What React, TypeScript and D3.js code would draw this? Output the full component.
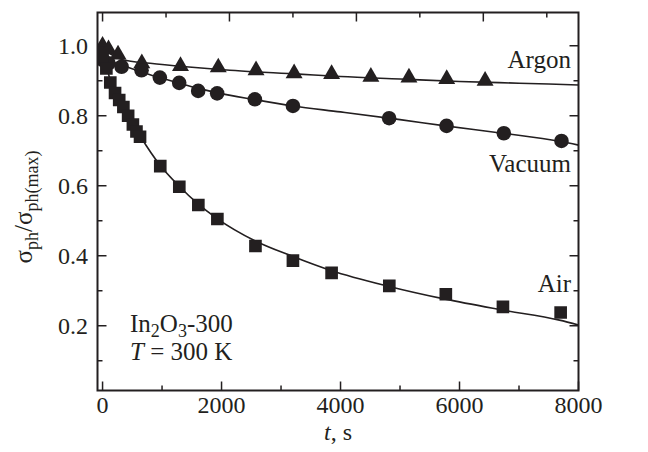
import React from "react";
import * as d3 from "d3";

// ---- data (t in axis units, s; value = sigma_ph / sigma_ph(max)) ----
const argonT = [0, 100, 260, 660, 1310, 1945, 2580, 3220, 3850, 4510, 5150, 5785, 6430];
const argonV = [1.0, 0.99, 0.975, 0.95, 0.942, 0.938, 0.93, 0.921, 0.919, 0.911, 0.909, 0.905, 0.9];

const vacuumT = [0, 100, 320, 655, 963, 1288, 1607, 1926, 2560, 3200, 4817, 5782, 6745, 7714];
const vacuumV = [0.96, 0.95, 0.94, 0.93, 0.909, 0.894, 0.871, 0.864, 0.847, 0.828, 0.793, 0.771, 0.75, 0.728];

const airT = [0, 64, 130, 210, 280, 350, 430, 510, 570, 630, 970, 1290, 1610, 1930, 2570, 3200, 3850, 4820, 5770, 6730, 7700];
const airV = [0.97, 0.935, 0.895, 0.865, 0.845, 0.825, 0.8, 0.775, 0.755, 0.74, 0.656, 0.597, 0.545, 0.505, 0.428, 0.386, 0.351, 0.314, 0.29, 0.254, 0.238];

// fitted curves
const argonFitT = [0, 150, 340, 800, 1400, 2140, 3300, 4000, 5000, 6000, 7000, 8000];
const argonFitV = [0.995, 0.975, 0.96, 0.95, 0.94, 0.93, 0.919, 0.912, 0.905, 0.898, 0.893, 0.888];

const vacuumFitT = [0, 160, 320, 640, 960, 1280, 1600, 1920, 2560, 3200, 4000, 5000, 5760, 6720, 7680, 8000];
const vacuumFitV = [0.975, 0.955, 0.945, 0.926, 0.909, 0.893, 0.879, 0.866, 0.846, 0.828, 0.811, 0.789, 0.771, 0.75, 0.727, 0.716];

const airFitT = [0, 60, 130, 250, 400, 640, 960, 1280, 1600, 1920, 2560, 3200, 3840, 4800, 5760, 6720, 7680, 8000];
const airFitV = [1.0, 0.95, 0.9, 0.855, 0.81, 0.74, 0.66, 0.6, 0.549, 0.507, 0.443, 0.398, 0.358, 0.313, 0.276, 0.245, 0.216, 0.202];

// ticks
const xMajorTicks = [0, 2000, 4000, 6000, 8000];
const xMinorTicks = [1000, 3000, 5000, 7000];
const xTickLabels = ["0", "2000", "4000", "6000", "8000"];
const topTicks = [0, 1067, 2133, 3200, 4267, 5333, 6400, 7467];
const yMajorTicks = [0.2, 0.4, 0.6, 0.8, 1.0];
const yMinorTicks = [0.1, 0.3, 0.5, 0.7, 0.9];
const yTickLabels = ["0.2", "0.4", "0.6", "0.8", "1.0"];

const W = 648, H = 452;
const L = 97.5, R = 578.5, T = 12.5, B = 390.5;
const INK = "#231f20";
const FONT = "'Liberation Serif', 'Times New Roman', serif";

export default function App() {
  const x = d3.scaleLinear().domain([-85, 8000]).range([L, R]);
  const y = d3.scaleLinear().domain([0.015, 1.095]).range([B, T]);

  const line = d3
    .line<[number, number]>()
    .x((d) => x(d[0]))
    .y((d) => y(d[1]))
    .curve(d3.curveMonotoneX);

  const zip = (a: number[], b: number[]) => a.map((t, i) => [t, b[i]] as [number, number]);

  const tri = d3.symbol().type(d3.symbolTriangle).size(125)() as string;
  const sq = d3.symbol().type(d3.symbolSquare).size(160)() as string;

  const majorLen = 9, minorLen = 5;

  return (
    <svg
      width={W}
      height={H}
      style={{ position: "absolute", left: 0, top: 0, background: "#fff" }}
      fontFamily={FONT}
    >
      <rect x={0} y={0} width={W} height={H} fill="#fff" />
      <defs>
        <clipPath id="plot">
          <rect x={L} y={T} width={R - L} height={B - T} />
        </clipPath>
      </defs>

      {/* curves */}
      <g clipPath="url(#plot)" fill="none" stroke={INK} strokeWidth={1.6}>
        <path d={line(zip(argonFitT, argonFitV)) || ""} />
        <path d={line(zip(vacuumFitT, vacuumFitV)) || ""} />
        <path d={line(zip(airFitT, airFitV)) || ""} />
      </g>

      {/* markers */}
      <g fill={INK} clipPath="url(#plot)">
        {zip(argonT, argonV).map((d, i) => (
          <path key={"a" + i} d={tri} transform={`translate(${x(d[0])},${y(d[1])})`} />
        ))}
        {zip(vacuumT, vacuumV).map((d, i) => (
          <circle key={"v" + i} cx={x(d[0])} cy={y(d[1])} r={7.3} />
        ))}
        {zip(airT, airV).map((d, i) => (
          <path key={"s" + i} d={sq} transform={`translate(${x(d[0])},${y(d[1])})`} />
        ))}
      </g>

      {/* frame */}
      <rect x={L} y={T} width={R - L} height={B - T} fill="none" stroke={INK} strokeWidth={2} />

      {/* ticks */}
      <g stroke={INK} strokeWidth={1.5}>
        {xMajorTicks.map((t) => (
          <line key={"xb" + t} x1={x(t)} x2={x(t)} y1={B} y2={B - majorLen} />
        ))}
        {xMinorTicks.map((t) => (
          <line key={"xm" + t} x1={x(t)} x2={x(t)} y1={B} y2={B - minorLen} />
        ))}
        {topTicks.map((t, i) => (
          <line key={"xt" + t} x1={x(t)} x2={x(t)} y1={T} y2={T + (i % 2 === 0 ? majorLen : minorLen)} />
        ))}
        {yMajorTicks.map((v) => (
          <g key={"y" + v}>
            <line x1={L} x2={L + majorLen} y1={y(v)} y2={y(v)} />
            <line x1={R} x2={R - majorLen} y1={y(v)} y2={y(v)} />
          </g>
        ))}
        {yMinorTicks.map((v) => (
          <g key={"ym" + v}>
            <line x1={L} x2={L + minorLen} y1={y(v)} y2={y(v)} />
            <line x1={R} x2={R - minorLen} y1={y(v)} y2={y(v)} />
          </g>
        ))}
      </g>

      {/* tick labels */}
      <g fill={INK} fontSize={24}>
        {xMajorTicks.map((t, i) => (
          <text key={"xl" + t} x={x(t)} y={413} textAnchor="middle">
            {xTickLabels[i]}
          </text>
        ))}
        {yMajorTicks.map((v, i) => (
          <text key={"yl" + v} x={88} y={y(v) + 8} textAnchor="end">
            {yTickLabels[i]}
          </text>
        ))}
      </g>

      {/* axis titles */}
      <text x={338} y={440} textAnchor="middle" fontSize={24} fill={INK}>
        <tspan fontStyle="italic">t</tspan>, s
      </text>
      <text transform="translate(32,207) rotate(-90)" textAnchor="middle" fontSize={25} fill={INK}>
        σ<tspan fontSize={18} dy={6}>ph</tspan>
        <tspan dy={-6}>/σ</tspan>
        <tspan fontSize={18} dy={6}>ph(max)</tspan>
      </text>

      {/* series labels */}
      <g fill={INK} fontSize={25} textAnchor="end">
        <text x={571} y={68}>Argon</text>
        <text x={571} y={172}>Vacuum</text>
        <text x={571} y={292}>Air</text>
      </g>

      {/* annotation */}
      <g fill={INK} fontSize={25}>
        <text x={130} y={332}>
          In<tspan fontSize={18} dy={5}>2</tspan>
          <tspan dy={-5}>O</tspan>
          <tspan fontSize={18} dy={5}>3</tspan>
          <tspan dy={-5}>-300</tspan>
        </text>
        <text x={130} y={360}>
          <tspan fontStyle="italic">T</tspan> = 300 K
        </text>
      </g>
    </svg>
  );
}
